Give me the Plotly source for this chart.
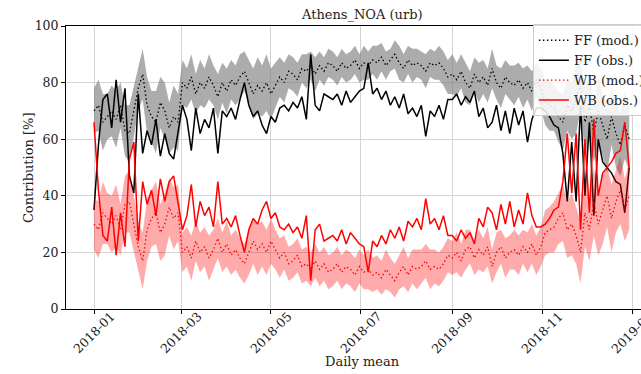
import pandas as pd
import plotly.graph_objects as go

start_date = "2018-01-01"
step_days = 3

tick_dates = ["2018-01-01", "2018-03-01", "2018-05-01", "2018-07-01",
              "2018-09-01", "2018-11-01", "2019-01-01"]
tick_labels = ["2018-01", "2018-03", "2018-05", "2018-07",
               "2018-09", "2018-11", "2019-01"]
y_ticks = [0, 20, 40, 60, 80, 100]

ff_obs = [35, 58, 74, 76, 64, 81, 66, 78, 47, 41, 76, 55, 63, 58, 67, 54, 62, 55, 53, 62,
          72, 67, 56, 71, 62, 67, 64, 71, 55, 70, 68, 71, 67, 74, 80, 72, 68, 70, 65, 62,
          68, 66, 71, 72, 70, 73, 71, 75, 67, 90, 72, 70, 76, 75, 74, 76, 72, 77, 73, 75,
          77, 78, 87, 76, 78, 74, 77, 72, 75, 71, 76, 69, 71, 68, 72, 61, 70, 68, 72, 67,
          74, 74, 76, 72, 75, 73, 77, 68, 71, 64, 66, 72, 63, 70, 62, 71, 65, 70, 59, 67,
          71, 71, 70, 68, 65, 64, 55, 38, 59, 38, 72, 40, 66, 33, 60, 52, 50, 48, 45, 44, 34, 50]

wb_obs = [66, 42, 26, 24, 36, 19, 34, 22, 53, 59, 24, 45, 37, 42, 33, 46, 38, 45, 47, 38,
          28, 33, 44, 29, 38, 33, 36, 29, 45, 30, 32, 29, 33, 26, 20, 28, 32, 30, 35, 38,
          32, 34, 29, 28, 30, 27, 29, 25, 33, 10, 28, 30, 24, 25, 26, 24, 28, 23, 27, 25,
          23, 22, 13, 24, 22, 26, 23, 28, 25, 29, 24, 31, 29, 32, 28, 39, 30, 32, 28, 33,
          26, 26, 24, 28, 25, 27, 23, 32, 29, 36, 34, 28, 37, 30, 38, 29, 35, 30, 41, 33,
          29, 29, 30, 32, 35, 36, 45, 62, 41, 62, 28, 60, 34, 67, 40, 48, 50, 52, 55, 56, 66, 50]

ff_mod = [70, 72, 66, 68, 70, 67, 72, 63, 62, 70, 78, 83, 72, 68, 66, 73, 70, 64, 68, 66,
          80, 78, 82, 76, 80, 78, 82, 79, 75, 80, 77, 81, 79, 82, 84, 80, 76, 79, 77, 80,
          76, 79, 82, 80, 84, 83, 81, 85, 84, 86, 83, 86, 84, 87, 86, 84, 87, 85, 86, 88,
          85, 87, 86, 88, 87, 89, 86, 88, 90, 87, 85, 88, 86, 87, 86, 84, 87, 86, 87, 85,
          82, 83, 81, 84, 80, 78, 83, 80, 82, 79, 85, 80, 78, 82, 80, 79, 81, 78, 80, 77,
          81, 78, 73, 72, 71, 68, 66, 72, 70, 74, 80, 66, 72, 62, 70, 65, 60, 68, 62, 58, 65, 60]

wb_mod = [30, 28, 34, 32, 30, 33, 28, 37, 38, 30, 22, 17, 28, 32, 34, 27, 30, 36, 32, 34,
          20, 22, 18, 24, 20, 22, 18, 21, 25, 20, 23, 19, 21, 18, 16, 20, 24, 21, 23, 20,
          24, 21, 18, 20, 16, 17, 19, 15, 16, 14, 17, 14, 16, 13, 14, 16, 13, 15, 14, 12,
          15, 13, 14, 12, 13, 11, 14, 12, 10, 13, 15, 12, 15, 14, 15, 17, 14, 15, 14, 16,
          19, 18, 20, 17, 21, 22, 18, 21, 19, 22, 15, 20, 22, 18, 20, 21, 19, 22, 20, 23,
          19, 22, 27, 28, 29, 32, 34, 28, 30, 26, 20, 34, 28, 38, 30, 35, 40, 32, 38, 42, 35, 40]

ff_spread = [8, 9, 10, 8, 9, 10, 8, 9, 10, 9, 8, 9, 10, 9, 11, 9, 10, 9, 11, 10,
             8, 7, 8, 7, 8, 7, 8, 7, 8, 7, 8, 7, 7, 8, 7, 8, 9, 10, 9, 10,
             9, 8, 7, 7, 6, 6, 6, 5, 6, 5, 6, 5, 5, 5, 5, 5, 5, 5, 5, 5,
             5, 6, 5, 5, 6, 5, 5, 4, 5, 6, 5, 5, 6, 5, 5, 6, 5, 5, 6, 6,
             6, 7, 6, 6, 7, 6, 6, 7, 6, 6, 7, 6, 7, 6, 6, 7, 6, 7, 6, 7,
             6, 7, 8, 9, 8, 9, 10, 9, 10, 12, 10, 11, 12, 10, 12, 11, 12, 10, 12, 11, 12, 11]

wb_spread = [9, 10, 11, 9, 10, 11, 9, 10, 11, 10, 9, 10, 11, 10, 11, 10, 11, 10, 11, 10,
             7, 7, 8, 7, 7, 7, 8, 7, 7, 7, 8, 7, 7, 7, 7, 8, 8, 9, 8, 8,
             8, 7, 7, 6, 6, 6, 6, 6, 6, 6, 6, 6, 6, 6, 6, 6, 6, 6, 6, 6,
             6, 6, 7, 6, 6, 6, 7, 6, 6, 6, 7, 6, 6, 7, 6, 6, 7, 6, 6, 6,
             6, 6, 7, 6, 7, 6, 6, 7, 6, 7, 6, 7, 6, 7, 6, 7, 7, 6, 7, 7,
             7, 7, 8, 8, 9, 9, 10, 10, 11, 10, 11, 12, 11, 12, 11, 12, 11, 12, 11, 12, 11, 12]

dates = pd.date_range(start_date, periods=len(ff_obs), freq=f"{step_days}D")

ff_lo = [m - s for m, s in zip(ff_mod, ff_spread)]
ff_hi = [m + s for m, s in zip(ff_mod, ff_spread)]
wb_lo = [m - s for m, s in zip(wb_mod, wb_spread)]
wb_hi = [m + s for m, s in zip(wb_mod, wb_spread)]

FONT = "DejaVu Serif"

fig = go.Figure()
# FF model band
fig.add_trace(go.Scatter(x=dates, y=ff_lo, mode="lines", line=dict(width=0),
                         showlegend=False, hoverinfo="skip"))
fig.add_trace(go.Scatter(x=dates, y=ff_hi, mode="lines", line=dict(width=0),
                         fill="tonexty", fillcolor="rgba(128,128,128,0.65)",
                         showlegend=False, hoverinfo="skip"))
fig.add_trace(go.Scatter(x=dates, y=ff_mod, mode="lines", name="FF (mod.)",
                         line=dict(color="black", width=1.3, dash="1.5px,2.5px")))
fig.add_trace(go.Scatter(x=dates, y=ff_obs, mode="lines", name="FF (obs.)",
                         line=dict(color="black", width=1.5)))
# WB model band
fig.add_trace(go.Scatter(x=dates, y=wb_lo, mode="lines", line=dict(width=0),
                         showlegend=False, hoverinfo="skip"))
fig.add_trace(go.Scatter(x=dates, y=wb_hi, mode="lines", line=dict(width=0),
                         fill="tonexty", fillcolor="rgba(255,0,0,0.33)",
                         showlegend=False, hoverinfo="skip"))
fig.add_trace(go.Scatter(x=dates, y=wb_mod, mode="lines", name="WB (mod.)",
                         line=dict(color="red", width=1.3, dash="1.5px,2.5px")))
fig.add_trace(go.Scatter(x=dates, y=wb_obs, mode="lines", name="WB (obs.)",
                         line=dict(color="red", width=1.5)))

axis_common = dict(showline=True, linecolor="black", linewidth=1,
                   ticks="outside", ticklen=4, tickcolor="black", tickwidth=1,
                   showgrid=True, gridcolor="#d4d4d4", gridwidth=1,
                   zeroline=False, automargin=False,
                   tickfont=dict(family=FONT, size=12.5, color="#222"))

# rotated x tick labels centred on their ticks (as in the reference)
tick_annotations = [
    dict(text=lab, x=d, y=-0.083, xref="x", yref="paper", showarrow=False,
         textangle=-45, xanchor="center", yanchor="middle",
         font=dict(family=FONT, size=12.5, color="#222"))
    for d, lab in zip(tick_dates, tick_labels)
]

fig.update_layout(
    width=641, height=374,
    margin=dict(l=66, r=0, t=26, b=65, autoexpand=False),
    plot_bgcolor="white", paper_bgcolor="white",
    font=dict(family=FONT, size=13, color="#222"),
    xaxis=dict(type="date", range=["2017-12-13", "2019-01-07"],
               tickvals=tick_dates, showticklabels=False,
               mirror=True, **axis_common),
    yaxis=dict(range=[0, 100], tickvals=y_ticks, mirror=False, **axis_common),
    legend=dict(x=0.812, y=1.006, xanchor="left", yanchor="top",
                traceorder="normal",
                bgcolor="rgba(255,255,255,0.85)", bordercolor="#cccccc",
                borderwidth=1, font=dict(family=FONT, size=13, color="#222"),
                tracegroupgap=0, itemwidth=30),
    hovermode=False,
    annotations=[
        dict(text="Athens_NOA (urb)", x=0.515, y=1.042, xref="paper", yref="paper",
             showarrow=False, xanchor="center", yanchor="middle",
             font=dict(family=FONT, size=13, color="#222")),
        dict(text="Contribution [%]", x=-0.066, y=0.498, xref="paper", yref="paper",
             showarrow=False, textangle=-90, xanchor="center", yanchor="middle",
             font=dict(family=FONT, size=13, color="#222")),
        dict(text="Daily mean", x=0.515, y=-0.187, xref="paper", yref="paper",
             showarrow=False, xanchor="center", yanchor="middle",
             font=dict(family=FONT, size=13, color="#222")),
    ] + tick_annotations,
)

fig.write_html("out.html", include_plotlyjs=True, config={"displayModeBar": False})
